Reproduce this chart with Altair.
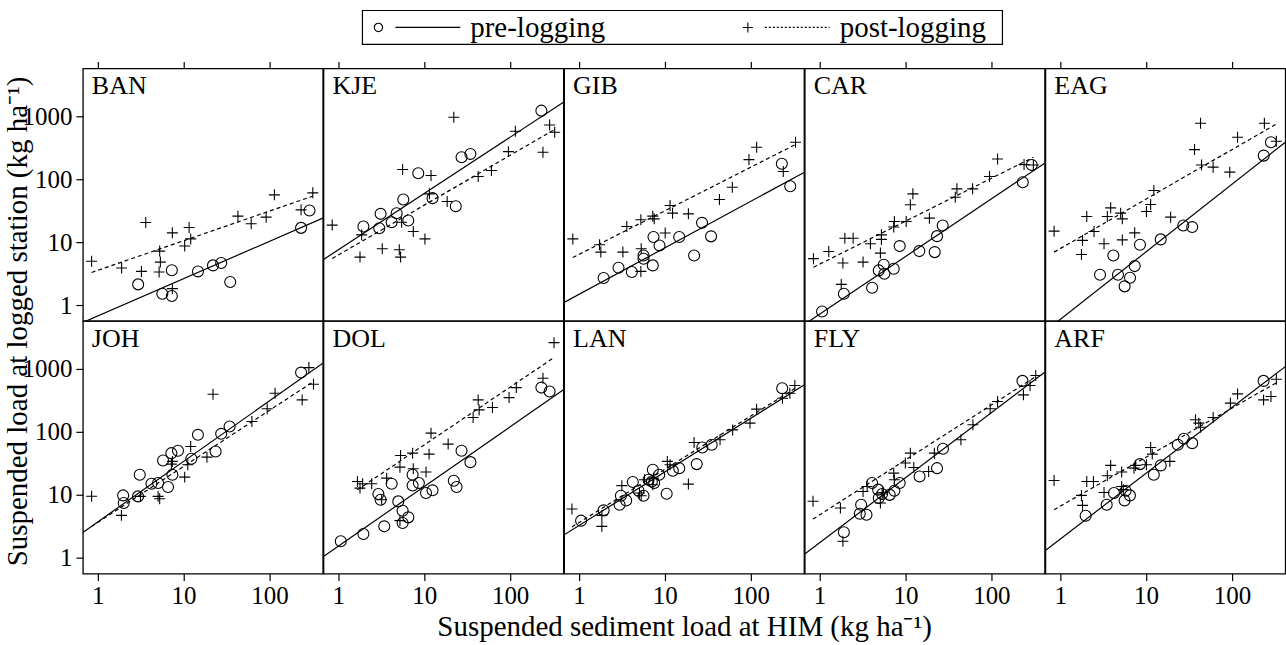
import math
import altair as alt
import pandas as pd

SITES = ["BAN", "KJE", "GIB", "CAR", "EAG", "JOH", "DOL", "LAN", "FLY", "ARF"]

BAN_PRE_X = [2.96, 5.66, 7.3, 7.3, 14.7, 22, 27.4, 34.9, 233, 292]
BAN_PRE_Y = [2.15, 1.53, 1.41, 3.6, 3.45, 4.3, 4.7, 2.34, 16.9, 31.9]
BAN_POST_X = [0.85, 1.9, 3.23, 3.63, 5.19, 5.37, 5.27, 7.4, 7.4, 10.3, 11.6, 12.1, 42.9, 61.2, 91.4, 114, 233, 319]
BAN_POST_Y = [5.0, 3.9, 3.45, 20.6, 3.37, 4.85, 7.24, 14.1, 1.84, 8.7, 17.1, 11.3, 25.9, 19.6, 25, 56.4, 32.6, 60.7]

KJE_PRE_X = [1.96, 3.0, 3.11, 4.18, 4.78, 6.53, 5.71, 8.53, 12.5, 23.3, 27.2, 34.5, 231]
KJE_PRE_Y = [17.8, 16.7, 28.2, 20.8, 28.9, 22.1, 47.5, 124, 50, 37.3, 222, 251, 1217]
KJE_POST_X = [0.85, 1.79, 1.87, 3.25, 5.13, 5.31, 5.46, 5.61, 7.46, 10.2, 12.0, 11.5, 18.5, 22.1, 42.5, 60.6, 95.5, 115, 241, 288, 330]
KJE_POST_Y = [18.7, 5.82, 13.1, 7.88, 7.6, 5.82, 20.8, 142, 14.8, 11.3, 114, 58.5, 44.2, 955, 110, 137, 273, 573, 267, 722, 553]

GIB_PRE_X = [1.94, 2.89, 4.13, 5.65, 5.65, 7.24, 7.38, 8.67, 14.7, 21.9, 27.1, 34.5, 230, 288]
GIB_PRE_Y = [2.71, 3.94, 3.37, 6.18, 5.47, 4.3, 12.1, 8.9, 12.1, 6.18, 20.3, 12.4, 175, 77.3]
GIB_POST_X = [0.85, 1.74, 1.80, 3.25, 3.61, 5.26, 5.31, 5.26, 7.24, 7.52, 10.1, 11.5, 12.3, 18.8, 43.2, 61, 95.3, 117, 239, 332]
GIB_POST_Y = [11.3, 9.12, 6.98, 6.98, 17.8, 22.7, 7.88, 3.45, 25.9, 23.5, 14, 38.2, 28.9, 28.2, 47.5, 74.5, 204, 320, 132, 384]

CAR_PRE_X = [1.07, 1.92, 4.09, 4.89, 5.59, 5.69, 7.3, 8.57, 14.5, 21.9, 23.3, 27.1, 232, 295]
CAR_PRE_Y = [0.80, 1.53, 1.9, 3.58, 4.4, 3.17, 3.8, 8.69, 7.24, 6.98, 12.5, 18.4, 89.4, 168]
CAR_POST_X = [0.85, 1.28, 1.79, 1.87, 1.97, 2.46, 3.21, 3.91, 5.11, 5.25, 5.25, 7.3, 7.43, 10.2, 11.4, 12.2, 19, 38, 39.7, 60.4, 95.1, 118, 240, 308]
CAR_POST_Y = [5.5, 7.15, 2.15, 4.68, 11.6, 11.6, 4.85, 9.46, 6.73, 13.1, 11.1, 17.4, 21.3, 21.3, 39.2, 58.5, 24.1, 51.8, 70.2, 70.2, 110, 209, 170, 168]

EAG_PRE_X = [2.91, 4.16, 4.71, 5.63, 6.5, 7.37, 8.49, 14.8, 27.1, 34.4, 234, 284]
EAG_PRE_Y = [3.06, 6.18, 3.06, 2.0, 2.74, 4.19, 9.12, 11.1, 18.4, 17.4, 236, 384]
EAG_POST_X = [0.85, 1.77, 1.82, 2.04, 2.48, 3.24, 3.54, 3.87, 5.06, 5.29, 5.29, 7.37, 10.1, 11.3, 12.3, 19.3, 36.6, 43, 44.2, 60.3, 94.2, 116, 238, 328]
EAG_POST_Y = [15, 6.41, 10.7, 25.6, 14.8, 9.46, 25.6, 35.1, 28.9, 23.5, 10.9, 14.1, 30.7, 39.6, 66, 25, 294, 767, 168, 155, 129, 461, 767, 398]

JOH_PRE_X = [1.98, 2.01, 2.95, 3.09, 4.23, 5.05, 6.59, 5.77, 7.21, 7.41, 8.61, 12.3, 14.7, 23.6, 27.4, 34.3, 233]
JOH_PRE_Y = [9.8, 7.42, 9.46, 20.8, 15, 15.4, 13.3, 35.1, 45.8, 20.8, 49.9, 37.3, 89.4, 48.7, 92.7, 121, 866]
JOH_POST_X = [0.85, 1.89, 3.15, 5.05, 5.27, 7.21, 7.41, 11.2, 12.1, 10.3, 18.7, 22, 62.4, 94, 116, 240, 287, 325]
JOH_POST_Y = [9.5, 4.73, 9.46, 9.46, 8.69, 30.7, 33.9, 30, 58.5, 19.1, 39.6, 393, 145, 231, 408, 320, 1040, 567]

DOL_PRE_X = [1.07, 1.96, 3.43, 2.93, 3.11, 4.18, 4.99, 5.61, 5.61, 6.53, 7.33, 7.33, 8.67, 10.5, 12.5, 22.1, 23.8, 27.2, 34.5, 231, 288]
DOL_PRE_Y = [1.84, 2.4, 3.17, 10.3, 8.37, 15, 7.88, 5.61, 3.58, 4.4, 20.8, 14.1, 15.4, 10.7, 11.8, 16.7, 13.3, 49.9, 33, 501, 434]
DOL_POST_X = [1.67, 1.79, 1.92, 2.45, 3.2, 3.66, 5.22, 5.31, 5.22, 7.33, 7.46, 10.5, 11.4, 12, 19, 37.1, 42.5, 43.6, 62.3, 97.2, 118, 241, 324]
DOL_POST_Y = [16.3, 12.8, 15, 15, 8.37, 18.4, 27.5, 42.1, 3.9, 45.8, 25.9, 23, 44.2, 95, 63.7, 168, 320, 222, 242, 348, 501, 705, 2584]

LAN_PRE_X = [1.06, 1.94, 2.97, 3.08, 3.55, 4.24, 4.94, 5.65, 6.46, 7.25, 7.06, 7.52, 8.6, 10.5, 12.4, 14.7, 23.5, 27.3, 35.1, 232]
LAN_PRE_Y = [3.9, 5.68, 6.98, 9.69, 8.17, 16, 11.6, 9.69, 17.4, 25, 16.3, 15.4, 20.8, 10.4, 24.1, 26.5, 30.7, 56.4, 62.1, 490]
LAN_POST_X = [0.83, 1.85, 1.85, 3.16, 5.07, 5.31, 5.8, 7.25, 7.38, 10.7, 11.5, 18.8, 21.9, 43.9, 61.5, 98, 117, 234, 285, 326]
LAN_POST_Y = [5.96, 3.17, 4.73, 14, 10.7, 9.69, 17.4, 14.5, 18.4, 33.9, 30, 14.8, 67.6, 74.5, 107, 137, 228, 340, 408, 540]

FLY_PRE_X = [1.92, 2.94, 3.05, 3.52, 4.09, 4.81, 4.89, 5.35, 6.56, 7.43, 8.57, 14.6, 23.3, 27.3, 230]
FLY_PRE_Y = [2.55, 5.03, 6.98, 4.85, 15.4, 12.1, 8.9, 10.3, 10.0, 11.6, 15.4, 19.6, 26.5, 53.7, 640]
FLY_POST_X = [0.84, 1.75, 1.87, 3.21, 3.58, 5.11, 5.35, 5.49, 7.3, 7.43, 9.98, 11.4, 12.5, 18.6, 21.7, 44.2, 61, 96.8, 118, 236, 282, 328]
FLY_POST_Y = [7.9, 6.18, 1.84, 11.3, 13.6, 7.42, 10.3, 10.9, 22.1, 17.4, 31.9, 45.8, 27.2, 23.5, 45.8, 74.5, 129, 231, 301, 384, 540, 777]

ARF_PRE_X = [1.98, 3.48, 4.23, 5.62, 5.78, 6.49, 8.49, 12.3, 14.8, 23.4, 27.5, 34.4, 233]
ARF_PRE_Y = [4.68, 6.98, 10.7, 8.17, 11.6, 9.81, 30.7, 20.8, 29.3, 62.1, 77.3, 66, 640]
ARF_POST_X = [0.85, 1.77, 1.82, 2.04, 2.44, 3.24, 3.54, 3.87, 5.2, 5.2, 5.43, 7.55, 7.23, 10.1, 11.3, 11.8, 18.9, 37.6, 41.1, 43, 60.3, 95.7, 116, 233, 284, 328]
ARF_POST_Y = [16.9, 9.81, 6.81, 16.3, 16.3, 10.9, 20.1, 29.3, 23, 13.6, 12.1, 29.3, 26.5, 30, 56.4, 44.2, 33.9, 155, 137, 118, 168, 284, 398, 320, 361, 679]

# fitted lines: log10(y) = a + b * log10(x)
PRE_A = [-0.169, 0.880, 0.173, -0.141, -0.224, 0.570, 0.186, 0.513, 0.240, 0.299]
PRE_B = [0.592, 0.892, 0.738, 0.914, 1.072, 0.960, 0.946, 0.850, 1.031, 1.043]
POST_A = [0.554, 0.799, 0.807, 0.652, 0.899, 0.562, 0.876, 0.560, 0.682, 0.819]
POST_B = [0.470, 0.789, 0.691, 0.681, 0.785, 0.889, 0.916, 0.845, 0.871, 0.778]

X_TICKS = [1, 10, 100]
Y_TICKS = [1, 10, 100, 1000]
X_DOMAIN = [0.673, 417]
Y_DOMAIN = [0.565, 5690]
LEGEND_LABELS = ["pre-logging", "post-logging"]
X_TITLE = "Suspended sediment load at HIM (kg ha\u207b\u00b9)"
Y_TITLE = "Suspended load at logged station (kg ha\u207b\u00b9)"

FONT = "Liberation Serif"
PW, PH = 240.3, 253
PLUS = "M-1,0L1,0M0,-1L0,1"

g = globals()


def fit_points(a, b, xs):
    return pd.DataFrame({"x": xs, "y": [10 ** (a + b * math.log10(v)) for v in xs]})


def key_layers():
    key_df = pd.DataFrame({"label": LEGEND_LABELS})
    kb = alt.Chart(key_df.head(1))
    box = kb.mark_rect(fill="white", stroke="black", strokeWidth=1.2).encode(
        x=alt.value(-202), x2=alt.value(439), y=alt.value(-58), y2=alt.value(-24))
    k_circ = kb.mark_point(shape="circle", filled=False, size=70, color="black", opacity=1,
                           strokeWidth=1.1).encode(x=alt.value(-186), y=alt.value(-41))
    k_line = kb.mark_rule(color="black", strokeWidth=1.2).encode(
        x=alt.value(-169), x2=alt.value(-104), y=alt.value(-41))
    k_t1 = alt.Chart(key_df).transform_filter(alt.datum.label == "pre-logging").mark_text(
        align="left", baseline="middle", font=FONT, fontSize=29, color="black"
    ).encode(x=alt.value(-94), y=alt.value(-40), text="label:N")
    k_plus = kb.mark_point(shape=PLUS, filled=False, size=100, color="black", opacity=1,
                           strokeWidth=1.1).encode(x=alt.value(184), y=alt.value(-41))
    k_dot = kb.mark_rule(color="black", strokeWidth=1.2, strokeDash=[2, 2]).encode(
        x=alt.value(201), x2=alt.value(266), y=alt.value(-41))
    k_t2 = alt.Chart(key_df).transform_filter(alt.datum.label == "post-logging").mark_text(
        align="left", baseline="middle", font=FONT, fontSize=29, color="black"
    ).encode(x=alt.value(276), y=alt.value(-40), text="label:N")
    return [box, k_circ, k_line, k_t1, k_plus, k_dot, k_t2]


def panel(i):
    site = SITES[i]
    row, col = divmod(i, 5)
    pre = pd.DataFrame({"x": g[site + "_PRE_X"], "y": g[site + "_PRE_Y"]})
    post = pd.DataFrame({"x": g[site + "_POST_X"], "y": g[site + "_POST_Y"]})
    pre_line = fit_points(PRE_A[i], PRE_B[i], X_DOMAIN)
    post_line = fit_points(POST_A[i], POST_B[i], [min(post.x), max(post.x)])

    xs = alt.Scale(type="log", domain=X_DOMAIN, nice=False)
    ys = alt.Scale(type="log", domain=Y_DOMAIN, nice=False)
    if row == 1:
        xaxis = alt.Axis(orient="bottom", values=X_TICKS, format="d", tickSize=7,
                         labelPadding=3, labelFontSize=25, domain=False, grid=False,
                         labelFlush=False, titleFontSize=29, titleFontWeight="normal",
                         titlePadding=4)
        xtitle = X_TITLE if site == "LAN" else None
    else:
        xaxis = alt.Axis(orient="top", values=X_TICKS, labels=False, tickSize=7,
                         domain=False, grid=False)
        xtitle = None
    if col == 0:
        yaxis = alt.Axis(orient="left", values=Y_TICKS, format="d", tickSize=7,
                         labelPadding=4, labelFontSize=25, domain=False, grid=False,
                         titleFontSize=29, titleFontWeight="normal", titleX=-65,
                         titleY=PH, titleAlign="center", titleBaseline="middle",
                         labelFlush=False)
        ytitle = Y_TITLE if row == 0 else None
    else:
        yaxis = None

    X = alt.X("x:Q", scale=xs, axis=xaxis, title=xtitle)
    Y = alt.Y("y:Q", scale=ys, axis=yaxis, title=ytitle if col == 0 else None)

    l_pre = alt.Chart(pre_line).mark_line(color="black", strokeWidth=1.2, clip=True).encode(x=X, y=Y)
    l_post = alt.Chart(post_line).mark_line(color="black", strokeWidth=1.2, clip=True,
                                            strokeDash=[4, 3]).encode(x=X, y=Y)
    p_pre = alt.Chart(pre).mark_point(shape="circle", filled=False, size=121, color="black",
                                      strokeWidth=1.1, opacity=1, clip=True).encode(x=X, y=Y)
    p_post = alt.Chart(post).mark_point(shape=PLUS, filled=False, size=121, color="black",
                                        strokeWidth=1.1, opacity=1, clip=True).encode(x=X, y=Y)
    lab = alt.Chart(pd.DataFrame({"site": [site]})).mark_text(
        align="left", baseline="alphabetic", font=FONT, fontSize=26, color="black"
    ).encode(x=alt.value(9), y=alt.value(26), text="site:N")
    layers = [l_pre, l_post, p_pre, p_post, lab]
    if site == "GIB":
        layers += key_layers()
    return alt.layer(*layers).properties(width=PW, height=PH)


panels = [panel(i) for i in range(10)]

chart = alt.concat(*panels, columns=5, spacing=0, bounds="flush").configure(
    font=FONT, padding={"left": 3, "top": 8, "right": 0, "bottom": 1}
).configure_view(stroke="black", strokeWidth=1.3).configure_axis(
    labelFont=FONT, titleFont=FONT, labelColor="black", titleColor="black",
    tickColor="black", tickWidth=1.2
)

chart.save("out.html", embed_options={"renderer": "svg", "actions": False})
